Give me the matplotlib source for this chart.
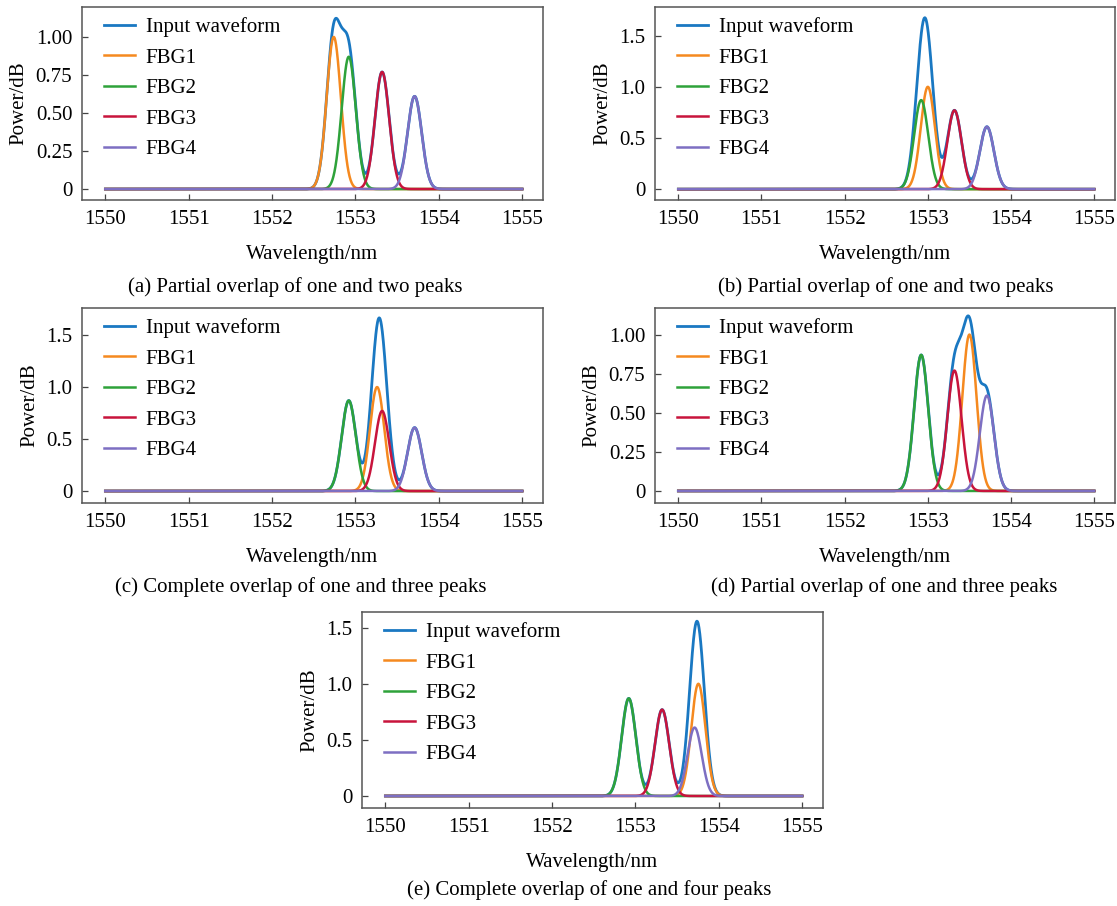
import numpy as np
import matplotlib
matplotlib.use('Agg')
import matplotlib.pyplot as plt

plt.rcParams['font.family'] = ['Liberation Serif', 'DejaVu Serif']

# Wavelength axis
wl_start, wl_end = 1550.0, 1555.0

# FBG peak parameters (FBG2-4 fixed, FBG1 moves per panel)
fbg_names = ['FBG1', 'FBG2', 'FBG3', 'FBG4']
fbg_amp = [1.00, 0.87, 0.77, 0.61]
fbg_sigma = [0.085, 0.085, 0.085, 0.085]
fbg2_center = 1552.92
fbg3_center = 1553.32
fbg4_center = 1553.71
fbg1_centers = [1552.74, 1553.00, 1553.26, 1553.50, 1553.755]

captions = [
    '(a) Partial overlap of one and two peaks',
    '(b) Partial overlap of one and two peaks',
    '(c) Complete overlap of one and three peaks',
    '(d) Partial overlap of one and three peaks',
    '(e) Complete overlap of one and four peaks',
]
yticks_small = [0, 0.25, 0.50, 0.75, 1.00]
ylabels_small = ['0', '0.25', '0.50', '0.75', '1.00']
yticks_big = [0, 0.5, 1.0, 1.5]
ylabels_big = ['0', '0.5', '1.0', '1.5']
xticks = [1550, 1551, 1552, 1553, 1554, 1555]

colors = ['#1a78c2', '#f5891f', '#2ea23a', '#c8143c', '#7d6fc2']

W, H = 1117, 906
fig = plt.figure(figsize=(W / 100, H / 100), dpi=100)

# axes boxes in pixels: left, top, right, bottom
boxes = [
    (82, 7, 543, 200),
    (655, 7, 1115, 200),
    (82, 308, 543, 503),
    (655, 308, 1115, 503),
    (362, 612, 823, 808),
]
ylims = [(-0.072, 1.197), (-0.106, 1.78), (-0.115, 1.76), (-0.077, 1.17), (-0.107, 1.64)]
caption_pos = [(295, 287), (886, 287), (301, 587), (884, 587), (589, 890)]
small_ticks = [True, False, False, True, False]

x = np.linspace(wl_start, wl_end, 2001)


def peak(center, amp, sigma):
    return amp * np.exp(-0.5 * ((x - center) / sigma) ** 2)


for i, (l, t, r, b) in enumerate(boxes):
    ax = fig.add_axes([l / W, 1 - b / H, (r - l) / W, (b - t) / H])
    centers = [fbg1_centers[i], fbg2_center, fbg3_center, fbg4_center]
    curves = [peak(c, a, s) for c, a, s in zip(centers, fbg_amp, fbg_sigma)]
    total = np.sum(curves, axis=0)
    ax.plot(x, total, color=colors[0], lw=2.0, label='Input waveform')
    for k, y in enumerate(curves):
        ax.plot(x, y, color=colors[k + 1], lw=1.8, label=fbg_names[k])

    ax.set_xlim(1549.72, 1555.25)
    ax.set_ylim(*ylims[i])
    ax.set_xticks(xticks)
    ax.set_xticklabels([str(v) for v in xticks])
    if small_ticks[i]:
        ax.set_yticks(yticks_small)
        ax.set_yticklabels(ylabels_small)
    else:
        ax.set_yticks(yticks_big)
        ax.set_yticklabels(ylabels_big)
    ax.tick_params(direction='in', length=4, width=0.9, color='#444444',
                   labelsize=15, pad=7)
    for sp in ax.spines.values():
        sp.set_color('#555555')
        sp.set_linewidth(1.1)
    ax.set_xlabel('Wavelength/nm', fontsize=15, labelpad=12)
    ax.set_ylabel('Power/dB', fontsize=15, labelpad=5)
    ax.legend(loc='upper left', frameon=False, fontsize=15, handlelength=1.5,
              handletextpad=0.5, labelspacing=0.52, borderaxespad=0.1,
              bbox_to_anchor=(0.025, 1.0))
    cx, cy = caption_pos[i]
    fig.text(cx / W, 1 - cy / H, captions[i], ha='center', va='center', fontsize=15)

fig.savefig('out.png', dpi=100)
